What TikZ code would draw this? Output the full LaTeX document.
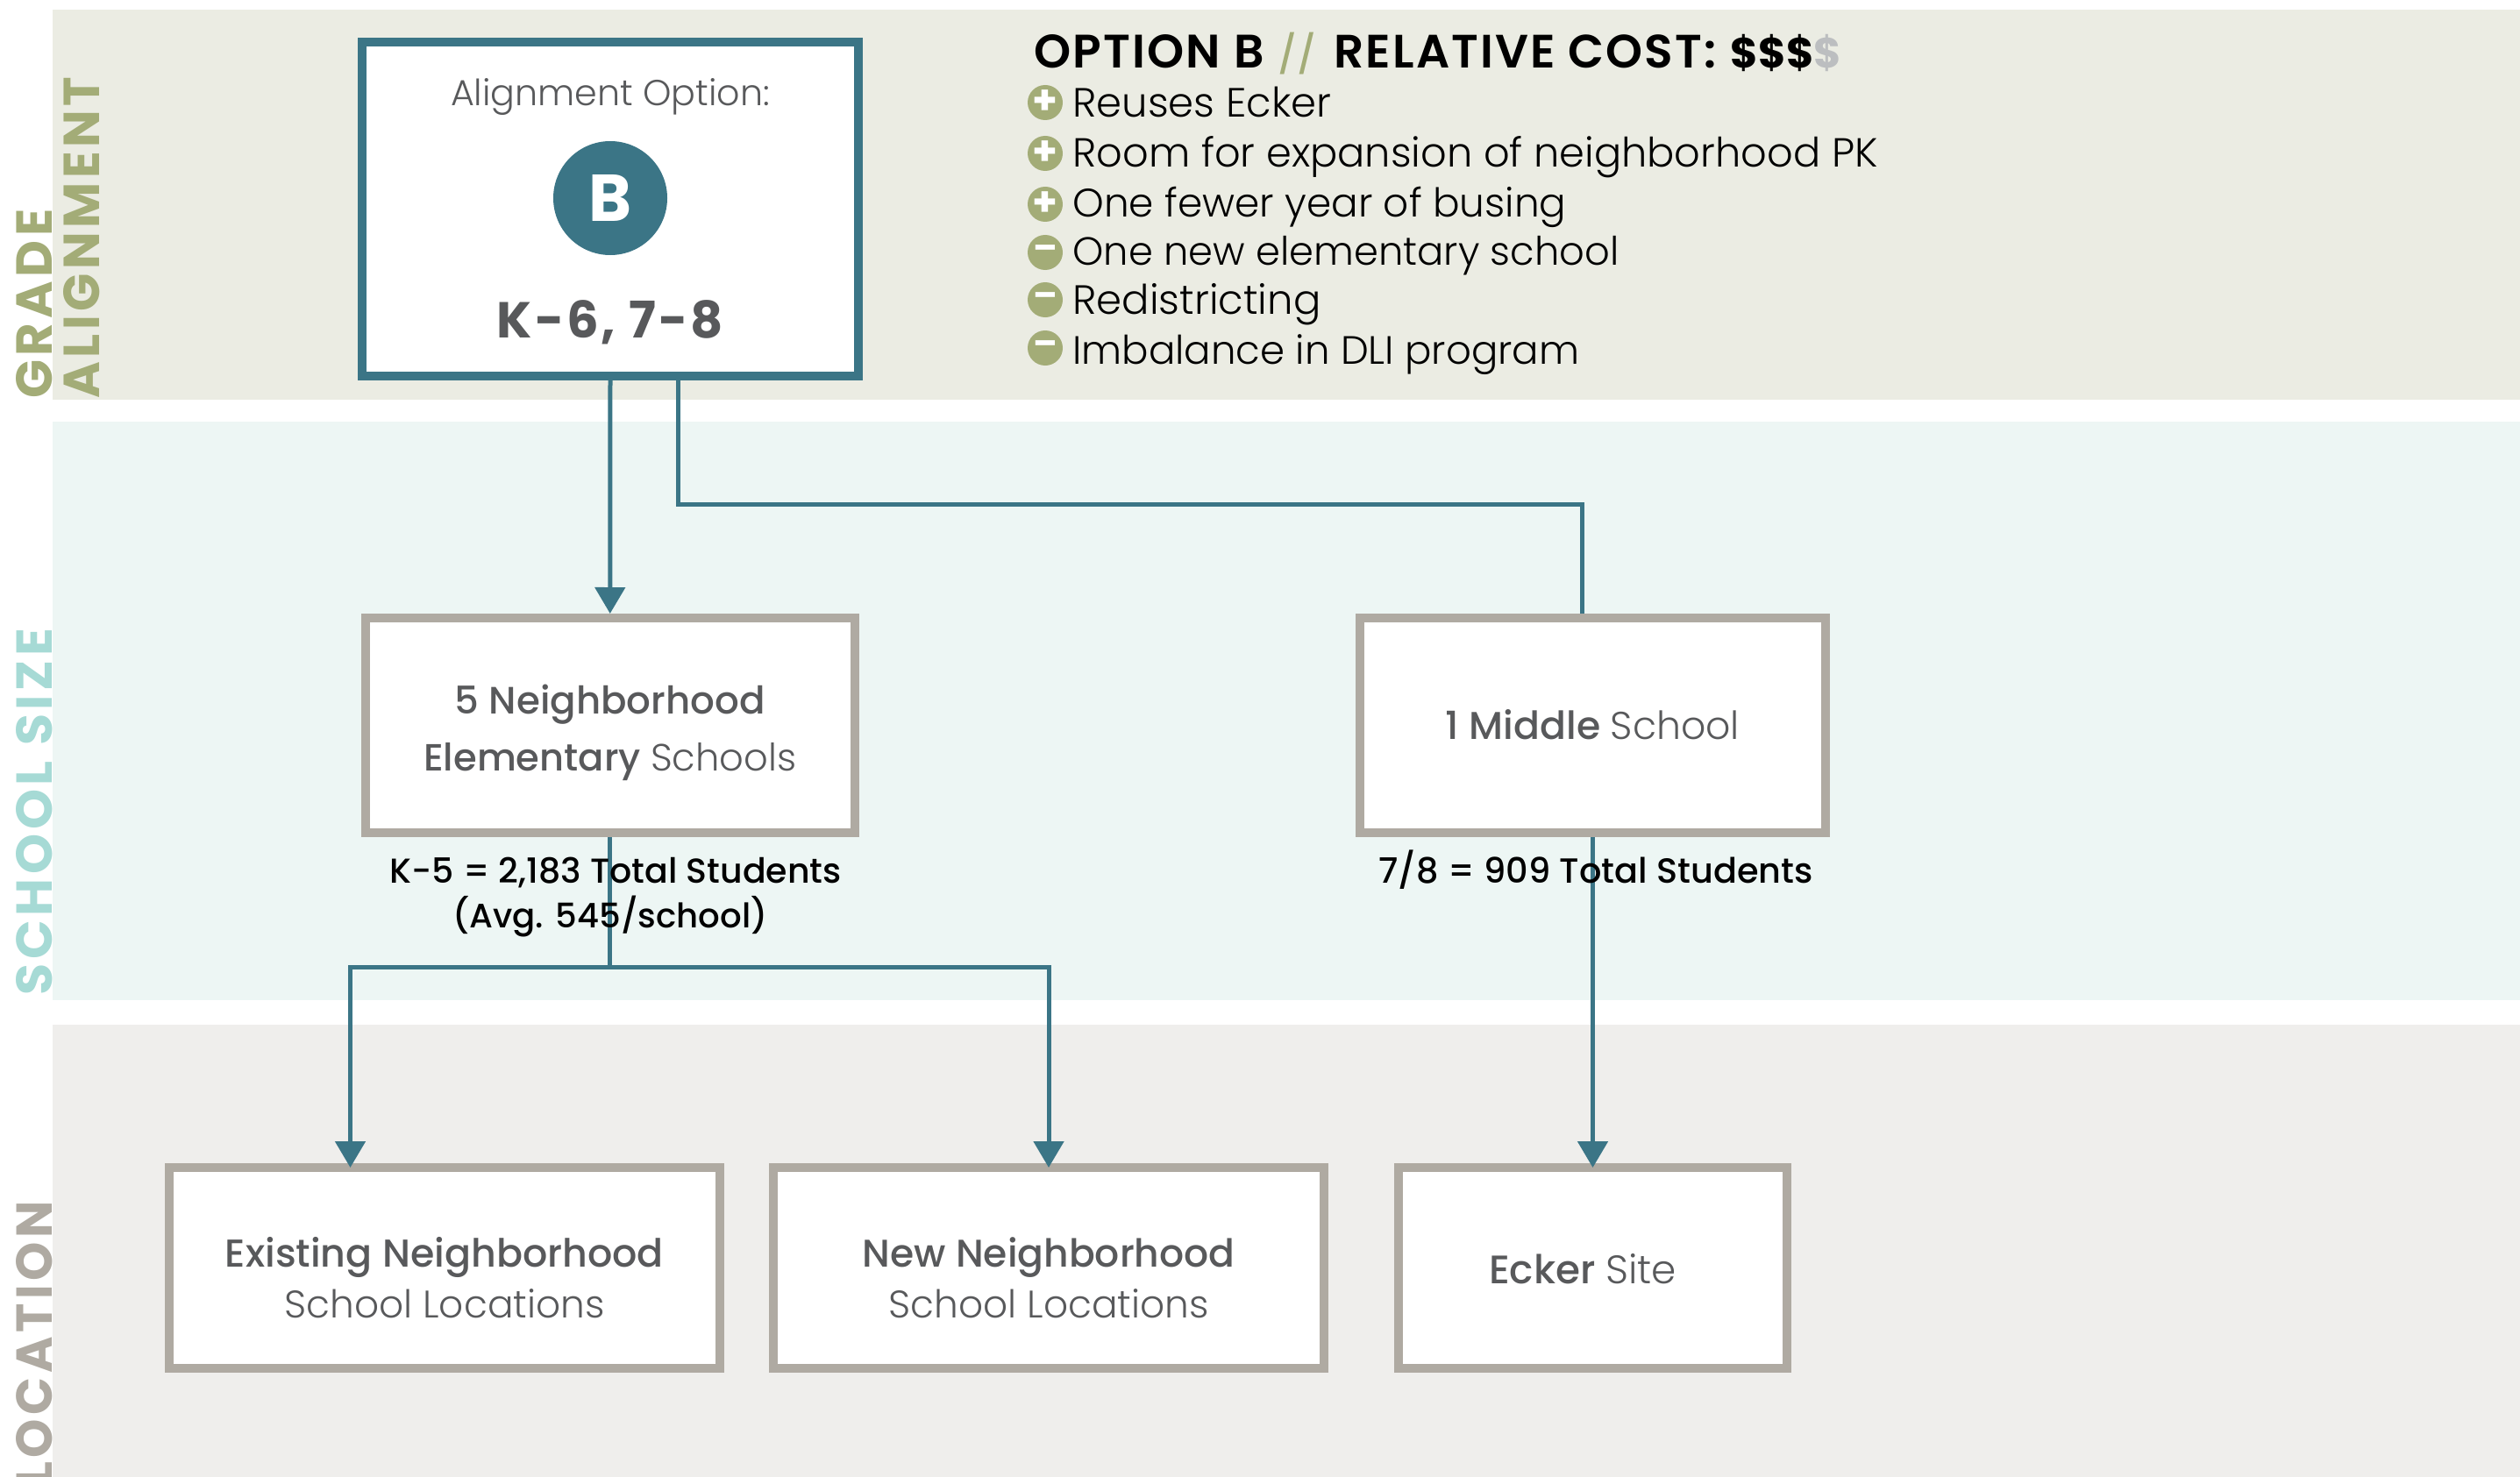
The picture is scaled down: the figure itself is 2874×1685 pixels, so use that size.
\documentclass[tikz,border=0pt]{standalone}
\usepackage{graphicx}
\usepackage{fontspec}
\setmainfont{Poppins}
\newfontfamily\lgt{Poppins Light}
\newfontfamily\mdm{Poppins Medium}
\newfontfamily\smb{Poppins SemiBold}[LetterSpace=4]
\newfontfamily\bdsp{Poppins Bold}[LetterSpace=8]
\newfontfamily\bdgr{Poppins Bold}[LetterSpace=5]
\usetikzlibrary{arrows.meta}
\newdimen\pxu \pxu=0.5pt
\definecolor{teal}{HTML}{3B7586}
\definecolor{olive}{HTML}{A3AC77}
\definecolor{bandA}{HTML}{EBECE3}
\definecolor{bandB}{HTML}{EDF6F4}
\definecolor{bandC}{HTML}{EFEEEC}
\definecolor{frameg}{HTML}{AFAAA2}
\definecolor{aqua}{HTML}{A6DAD5}
\definecolor{costg}{HTML}{BCBEC0}
\definecolor{ink}{HTML}{58595B}
% width-fitted text
\newcommand\fw[2]{\resizebox{#1\pxu}{!}{#2}}
% two-line and one-line contents for a box: above, baseline gap, below, lines
\newcommand\twolines[5]{\vbox{\offinterlineskip
  \hbox{\rule{0pt}{#1\pxu}\smash{\makebox[0pt]{#4}}}\vskip#2\pxu
  \hbox{\rule[-#3\pxu]{0pt}{#3\pxu}\smash{\makebox[0pt]{#5}}}}}
\newcommand\oneline[3]{\vbox{\offinterlineskip
  \hbox{\rule{0pt}{#1\pxu}\smash{\makebox[0pt]{#3}}}\vskip0pt
  \hbox{\rule[-#2\pxu]{0pt}{#2\pxu}}}}
\tikzset{
  frame/.style={draw=frameg,fill=white,line width=5pt,inner sep=0pt,outer sep=0pt,text=ink},
  aframe/.style={draw=teal,fill=white,line width=5pt,inner sep=0pt,outer sep=0pt},
  link/.style={draw=teal,line width=2.5pt},
  arrowlink/.style={link,-{Triangle[length=15pt,width=17pt]}},
  side/.style={rotate=90,anchor=south west,inner sep=0pt},
  lbl/.style={anchor=base,inner sep=0pt},
  itemlbl/.style={anchor=base west,inner sep=0pt},
  bullet/.style={circle,fill=olive,text=white,minimum size=20pt,inner sep=0pt},
  plusb/.style={bullet,font=\bfseries\fontsize{23}{23}\selectfont},
  minusb/.style={bullet,font=\bfseries\fontsize{20}{20}\selectfont},
}
\begin{document}
\begin{tikzpicture}[x=0.5pt,y=-0.5pt]
\useasboundingbox (0,0) rectangle (2874,1685);
\fill[white] (0,0) rectangle (2874,1685);
\begin{scope}
\clip (0,0) rectangle (2874,1685);
\fill[bandA] (60,11) rectangle (2874,456);
\fill[bandB] (60,481) rectangle (2874,1141);
\fill[bandC] (60,1169) rectangle (2874,1685);
\node[side,text=olive] (tgrade) at (60,455) {\resizebox{216\pxu}{41\pxu}{\bdsp GRADE}};
\node[side,text=olive] (talign) at (114,455) {\resizebox{367\pxu}{41\pxu}{\bdsp ALIGNMENT}};
\node[side,text=aqua] (tsize) at (60,1136) {\resizebox{419\pxu}{41\pxu}{\bdsp SCHOOL SIZE}};
\node[side,text=frameg] (tloc) at (60,1695) {\resizebox{324\pxu}{41\pxu}{\bdsp LOCATION}};
\end{scope}

% boxes
\node[aframe,minimum width=283pt,minimum height=190.5pt] (a) at (696,238.5) {};
\node[frame,minimum width=278.75pt,minimum height=122.5pt] (e) at (695.75,827.5)
  {\twolines{56}{65}{18}{\fw{354}{\mdm 5 Neighborhood}}{\fw{425}{\mdm Elementary \lgt Schools}}};
\node[frame,minimum width=265.75pt,minimum height=122.5pt] (m) at (1816.5,827.5)
  {\oneline{45}{14}{\fw{335}{\mdm 1 Middle \lgt School}}};
\node[frame,minimum width=314.25pt,minimum height=114.5pt] (ex) at (507,1446.5)
  {\twolines{55}{58}{0}{\fw{500}{\mdm Existing Neighborhood}}{\fw{365}{\lgt School Locations}}};
\node[frame,minimum width=314pt,minimum height=114.5pt] (nw) at (1196,1446.5)
  {\twolines{55}{58}{0}{\fw{425}{\mdm New Neighborhood}}{\fw{365}{\lgt School Locations}}};
\node[frame,minimum width=221.5pt,minimum height=114.5pt] (ec) at (1816.5,1446.5)
  {\oneline{46}{10}{\fw{214}{\mdm Ecker \lgt Site}\hspace*{23\pxu}}};

% connectors
\coordinate (j1) at (773,575.5);
\coordinate (j2) at (1804,575.5);
\coordinate (j3) at (695.75,1103);
\coordinate (j4) at (399.5,1103);
\coordinate (j5) at (1196,1103);
\draw[arrowlink,shorten >=2.5pt] (a.south) -- (e.north);
\draw[link,shorten >=2.5pt] (a.south -| j1) -- (j1) -- (j2) -- (m.north -| j2);
\draw[link,shorten <=2.5pt] (e.south) -- (j3);
\draw[arrowlink] (j3) -- (j4) -- (j4 |- ex.north);
\draw[arrowlink] (j3) -- (j5) -- (nw.north);
\draw[arrowlink,shorten <=2.5pt] (m.south) -- (ec.north);

% alignment box content
\node[lbl,text=ink] (optlabel) at (696,121) {\fw{364}{\lgt Alignment Option:}};
\node[circle,fill=teal,minimum size=65pt,inner sep=0pt] (badge) at (696,226) {};
\node[lbl,text=white] (badgeb) at (696,253) {\resizebox{49\pxu}{53\pxu}{\bfseries B}};
\node[lbl,text=ink] (grades) at (696,385) {\fw{258}{\bdgr K-6, 7-8}};

% counts
\node[lbl,text=black] (c1) at (702,1007) {\fw{515}{\mdm K-5 = 2,183 Total Students}};
\node[lbl,text=black] (c2) at (696,1058) {\fw{359}{\mdm (Avg. 545/school)}};
\node[lbl,text=black] (c3) at (1820,1007) {\fw{495}{\mdm 7/8 = 909 Total Students}};

% header and list
\node[itemlbl,text=black] (head) at (1179,78) {\mbox{\fw{262}{\smb OPTION B}\hspace*{16\pxu}\fw{44}{\color{olive}\mdm //}\hspace*{20\pxu}\fw{436}{\smb RELATIVE COST:}\hspace*{16\pxu}\fw{127}{\bfseries\$\$\${\color{costg}\$}}}};
\node[plusb] (b1) at (1192,117) {+};
\node[plusb] (b2) at (1192,175) {+};
\node[plusb] (b3) at (1192,233) {+};
\node[minusb] (b4) at (1192,288) {–};
\node[minusb] (b5) at (1192,342) {–};
\node[minusb] (b6) at (1192,397) {–};
\node[itemlbl,text=black] (i1) at (1223,134) {\fw{295}{\lgt Reuses Ecker}};
\node[itemlbl,text=black] (i2) at (1223,191) {\fw{918}{\lgt Room for expansion of neighborhood PK}};
\node[itemlbl,text=black] (i3) at (1223,248) {\fw{563}{\lgt One fewer year of busing}};
\node[itemlbl,text=black] (i4) at (1223,302) {\fw{623}{\lgt One new elementary school}};
\node[itemlbl,text=black] (i5) at (1223,358) {\fw{283}{\lgt Redistricting}};
\node[itemlbl,text=black] (i6) at (1223,415) {\fw{578}{\lgt Imbalance in DLI program}};
\end{tikzpicture}
\end{document}
